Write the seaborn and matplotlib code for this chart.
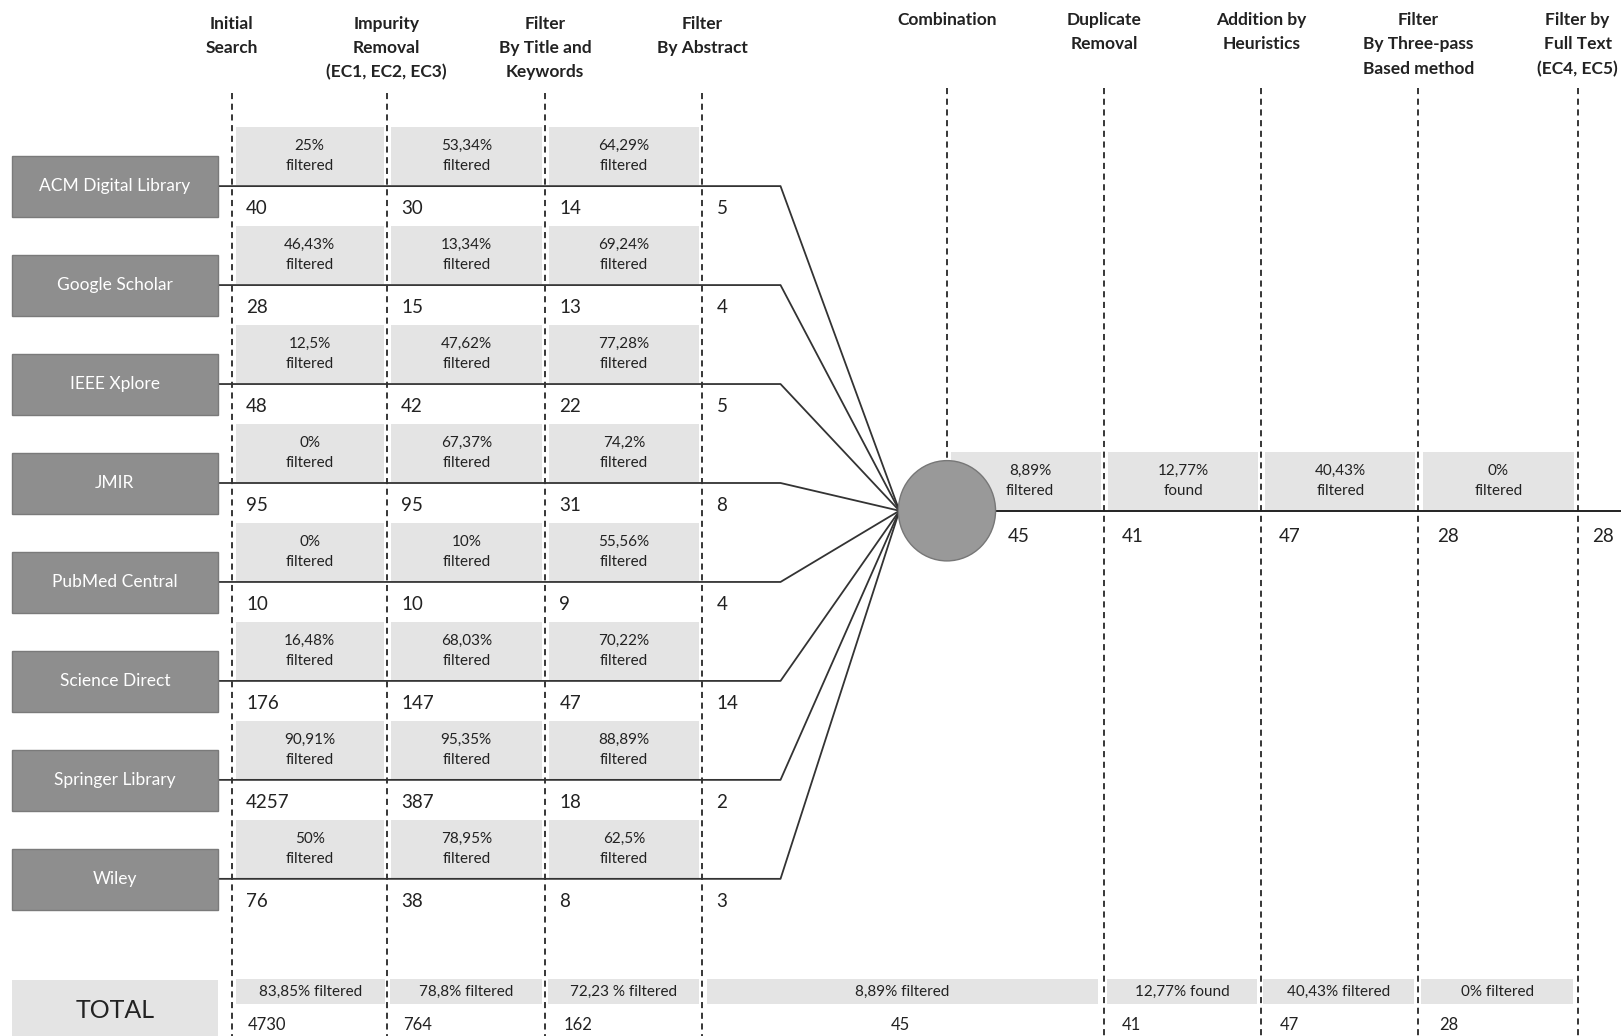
import matplotlib
matplotlib.use('Agg')
import matplotlib.pyplot as plt
from matplotlib.patches import Rectangle, Ellipse
import numpy as np
import pandas as pd
import seaborn as sns

# ---- data -------------------------------------------------------------
sources = ['ACM Digital Library', 'Google Scholar', 'IEEE Xplore', 'JMIR',
           'PubMed Central', 'Science Direct', 'Springer Library', 'Wiley']

initial_search = [40, 28, 48, 95, 10, 176, 4257, 76]
impurity_removal = [30, 15, 42, 95, 10, 147, 387, 38]
by_title_keywords = [14, 13, 22, 31, 9, 47, 18, 8]
by_abstract = [5, 4, 5, 8, 4, 14, 2, 3]

pct_impurity = ['25%', '46,43%', '12,5%', '0%', '0%', '16,48%', '90,91%', '50%']
pct_title = ['53,34%', '13,34%', '47,62%', '67,37%', '10%', '68,03%', '95,35%', '78,95%']
pct_abstract = ['64,29%', '69,24%', '77,28%', '74,2%', '55,56%', '70,22%', '88,89%', '62,5%']

left_headers = ['Initial\nSearch', 'Impurity\nRemoval\n(EC1, EC2, EC3)',
                'Filter\nBy Title and\nKeywords', 'Filter\nBy Abstract']
right_headers = ['Combination', 'Duplicate\nRemoval', 'Addition by\nHeuristics',
                 'Filter\nBy Three-pass\nBased method', 'Filter by\nFull Text\n(EC4, EC5)']

merged_counts = [45, 41, 47, 28, 28]
merged_pct = ['8,89%\nfiltered', '12,77%\nfound', '40,43%\nfiltered', '0%\nfiltered']

total_counts = [4730, 764, 162, 45, 41, 47, 28]
total_pct = ['83,85% filtered', '78,8% filtered', '72,23 % filtered', '8,89% filtered',
             '12,77% found', '40,43% filtered', '0% filtered']

# ---- style ------------------------------------------------------------
sns.set_theme(style='white')
plt.rcParams['font.family'] = ['Lato', 'DejaVu Sans']

BOX_GRAY = '#8e8e8e'
SHADE = '#e4e4e4'
TXT = '#222222'

fig = plt.figure(figsize=(16.21, 10.36), dpi=100)
ax = fig.add_axes([0, 0, 1, 1])

left_cols = [224, 374, 527, 679]
right_cols = [916, 1068, 1220, 1372, 1526]
row_y = np.linspace(180, 850, len(sources))
hub = (870, 494)
bend_x = 755
dash = (0, (4, 3))

# connector lines from each source to the combination hub
rows = []
for name, y in zip(sources, row_y):
    rows += [dict(src=name, x=211, y=y), dict(src=name, x=bend_x, y=y),
             dict(src=name, x=hub[0], y=hub[1])]
lines = pd.DataFrame(rows)
sns.lineplot(data=lines, x='x', y='y', units='src', estimator=None, sort=False,
             color='#333333', lw=1.3, legend=False, ax=ax, zorder=3)
ax.set_xlim(0, 1568)
ax.set_ylim(1002, 0)
ax.axis('off')

# dashed stage lines
for x in left_cols:
    ax.plot([x, x], [90, 1002], ls=dash, color='black', lw=1.1, zorder=1)
ax.plot([916, 916], [85, 447], ls=dash, color='black', lw=1.1, zorder=1)
for x in right_cols[1:]:
    ax.plot([x, x], [85, 1002], ls=dash, color='black', lw=1.1, zorder=1)

# headers
for x, h in zip(left_cols, left_headers):
    ax.text(x, 15, h, ha='center', va='top', fontsize=12.5, fontweight='bold',
            color=TXT, linespacing=1.62)
for x, h in zip(right_cols, right_headers):
    ax.text(x, 12, h, ha='center', va='top', fontsize=12.5, fontweight='bold',
            color=TXT, linespacing=1.62)

stage_counts = [initial_search, impurity_removal, by_title_keywords, by_abstract]
stage_pcts = [pct_impurity, pct_title, pct_abstract]

for i, (name, y) in enumerate(zip(sources, row_y)):
    ax.add_patch(Rectangle((12, y - 29), 199, 59, facecolor=BOX_GRAY,
                           edgecolor='#7a7a7a', lw=1, zorder=4))
    ax.text(111, y, name, ha='center', va='center', color='white', fontsize=12.5, zorder=5)
    for j, x in enumerate(left_cols):
        ax.text(x + 14, y + 22, str(stage_counts[j][i]), ha='left', va='center',
                fontsize=13.5, color=TXT)
    for j in range(3):
        x0, x1 = left_cols[j] + 4, left_cols[j + 1] - 3
        ax.add_patch(Rectangle((x0, y - 57), x1 - x0, 56, facecolor=SHADE,
                               edgecolor='none', zorder=0))
        ax.text((x0 + x1) / 2, y - 29, f'{stage_pcts[j][i]}\nfiltered', ha='center',
                va='center', fontsize=11, color=TXT, linespacing=1.5)

# combination hub and the merged flow
for k, lab in enumerate(merged_pct):
    x0, x1 = right_cols[k] + 4, right_cols[k + 1] - 3
    ax.add_patch(Rectangle((x0, 437), x1 - x0, 56, facecolor=SHADE,
                           edgecolor='none', zorder=0))
    cx = (x0 + x1) / 2 + (4 if k == 0 else 0)
    ax.text(cx, 465, lab, ha='center', va='center', fontsize=11, color=TXT,
            linespacing=1.5, zorder=2)
ax.plot([hub[0], 1568], [hub[1], hub[1]], color='#222222', lw=1.4, zorder=3)
ax.add_patch(Ellipse((916, 494), 94, 97, facecolor='#999999', edgecolor='#777777',
                     lw=1, zorder=4))
num_x = [975, 1085, 1237, 1390, 1540]
for x, c in zip(num_x, merged_counts):
    ax.text(x, 519, str(c), ha='left', va='center', fontsize=13.5, color=TXT)

# total row
ax.add_patch(Rectangle((12, 948), 199, 60, facecolor=SHADE, edgecolor='none', zorder=0))
ax.text(111, 977, 'TOTAL', ha='center', va='center', fontsize=18, color=TXT)
total_spans = [(228, 372), (377, 524), (530, 676), (684, 1062),
               (1071, 1216), (1222, 1368), (1375, 1522)]
total_x = [240, 390, 545, 871, 1085, 1238, 1392]
for (x0, x1), lab, tx, c in zip(total_spans, total_pct, total_x, total_counts):
    ax.add_patch(Rectangle((x0, 947), x1 - x0, 24, facecolor=SHADE,
                           edgecolor='none', zorder=0))
    ax.text((x0 + x1) / 2, 959, lab, ha='center', va='center', fontsize=11, color=TXT)
    ha = 'center' if c == 45 else 'left'
    ax.text(tx, 991, str(c), ha=ha, va='center', fontsize=12, color=TXT)

fig.savefig('out.png', dpi=100)
